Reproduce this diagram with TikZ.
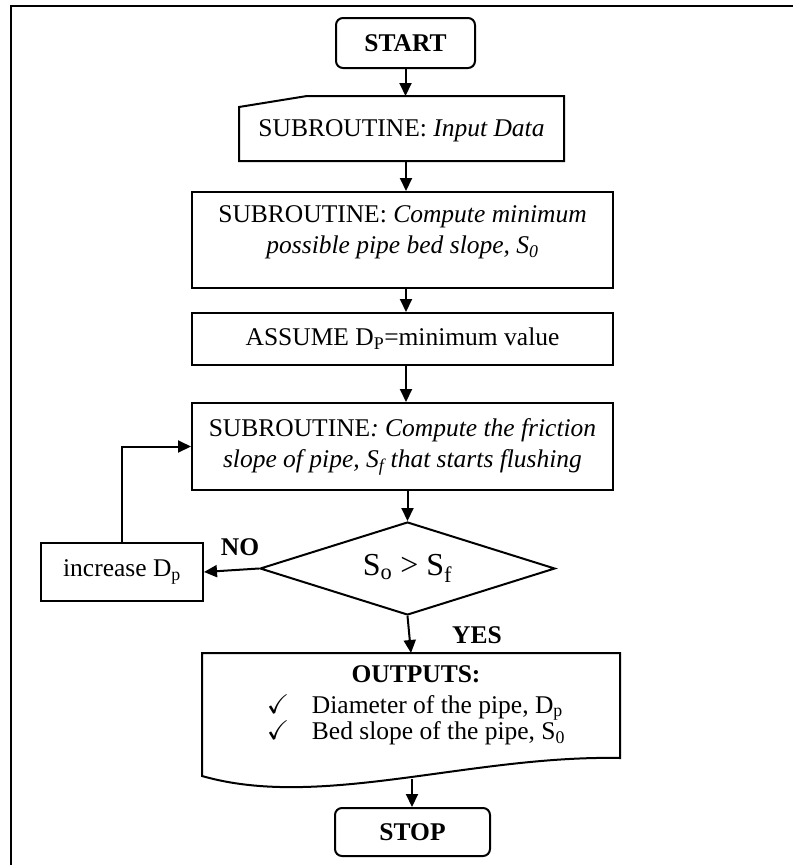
\documentclass[tikz,border=0pt]{standalone}
\usepackage{amssymb}
\usepackage{fontspec}
\setmainfont{Liberation Serif}
\usetikzlibrary{arrows.meta,shapes.geometric,calc}

\begin{document}
\begin{tikzpicture}[x=1pt,y=-1pt,
  font=\fontsize{25.5}{31}\selectfont,
  line width=2pt,
  flow/.style={-{Triangle[length=13pt,width=12pt]}},
  box/.style={draw, rectangle, inner sep=0pt, align=center},
  term/.style={box, rounded corners=7pt, font=\fontsize{25.5}{31}\selectfont\bfseries},
  frame/.style={rectangle, inner sep=0pt},
  tag/.style={font=\fontsize{25.5}{31}\selectfont\bfseries}]

\useasboundingbox (0,0) rectangle (793,865);

% page border (top and left edges)
\draw[line width=2.5pt] (11,865) -- (11,6) -- (793,6);

% column used by the vertical connectors
\coordinate (col) at (406,0);

% terminals and process boxes
\node[term, minimum width=139pt, minimum height=50pt] (start) at (405.5,43) {START};

\node[frame, minimum width=323pt, minimum height=63pt] (inp) at (401.5,128.5) {};
\draw ($(inp.north west)+(0,11)$) -- ($(inp.north west)+(68,0)$) -- (inp.north east)
      -- (inp.south east) -- (inp.south west) -- cycle;
\node (inptext) at (401.5,131) {SUBROUTINE: \textit{Input Data}};

\node[box, minimum width=421pt, minimum height=96pt] (comp1) at (402.5,240) {};
\node[align=center] (comp1text) at (402.5,232.5)
  {SUBROUTINE: \textit{Compute minimum}\\\textit{possible pipe bed slope, S\textsubscript{0}}};

\node[box, minimum width=421pt, minimum height=52pt] (assume) at (402.5,339)
  {ASSUME D\textsubscript{P}=minimum value};

\node[box, minimum width=421pt, minimum height=87pt] (fric) at (402.5,446.5)
  {SUBROUTINE\textit{: Compute the friction}\\\textit{slope of pipe, S\textsubscript{f} that starts flushing}};

\node[draw, diamond, aspect=3.2, inner sep=0pt, minimum width=295pt, minimum height=93pt,
      font=\fontsize{32}{38}\selectfont] (dec) at (407.5,568.5)
  {S\textsubscript{o} > S\textsubscript{f}};

\node[box, minimum width=162pt, minimum height=58pt] (inc) at (122,572) {increase D\textsubscript{p}};

% output document shape with wavy bottom
\node[frame, minimum width=416pt, minimum height=103pt] (out) at (411,705.5) {};
\draw ($(out.north west)+(0,123)$) -- (out.north west) -- (out.north east)
      -- ($(out.north east)+(0,105)$) .. controls (470,755) and (320,810) .. cycle;
\node (outtext) at (416,706) {%
  \fontsize{25.5}{26}\selectfont
  \begin{tabular}{@{}l@{}l@{}}
    \multicolumn{2}{c}{\textbf{OUTPUTS:}}\\[4pt]
    \makebox[45pt][l]{\fontsize{27}{28}\selectfont$\checkmark$} & Diameter of the pipe, D\textsubscript{p}\\
    \makebox[45pt][l]{\fontsize{27}{28}\selectfont$\checkmark$} & Bed slope of the pipe, S\textsubscript{0}
  \end{tabular}};
\coordinate (outend) at (412,779);

\node[term, minimum width=155pt, minimum height=48pt] (stop) at (412.5,832) {STOP};

% connectors
\draw[flow] (start) -- (start |- inp.north);
\draw[flow] (inp.south -| col) -- (comp1.north -| col);
\draw[flow] (comp1.south -| col) -- (assume.north -| col);
\draw[flow] (assume.south -| col) -- (fric.north -| col);
\draw[flow] (fric.south -| dec) -- (dec.north);
\draw[flow] (dec.south) -- (out.north);
\draw[flow] (dec.west) -- (inc.east);
\draw[flow] (inc.north) -- (inc.north |- fric.west) -- (fric.west);
\draw[flow] (outend) -- (outend |- stop.north);

% branch labels
\node[tag] (no) at (240,547) {NO};
\node[tag] (yes) at (477,635) {YES};

\end{tikzpicture}
\end{document}
